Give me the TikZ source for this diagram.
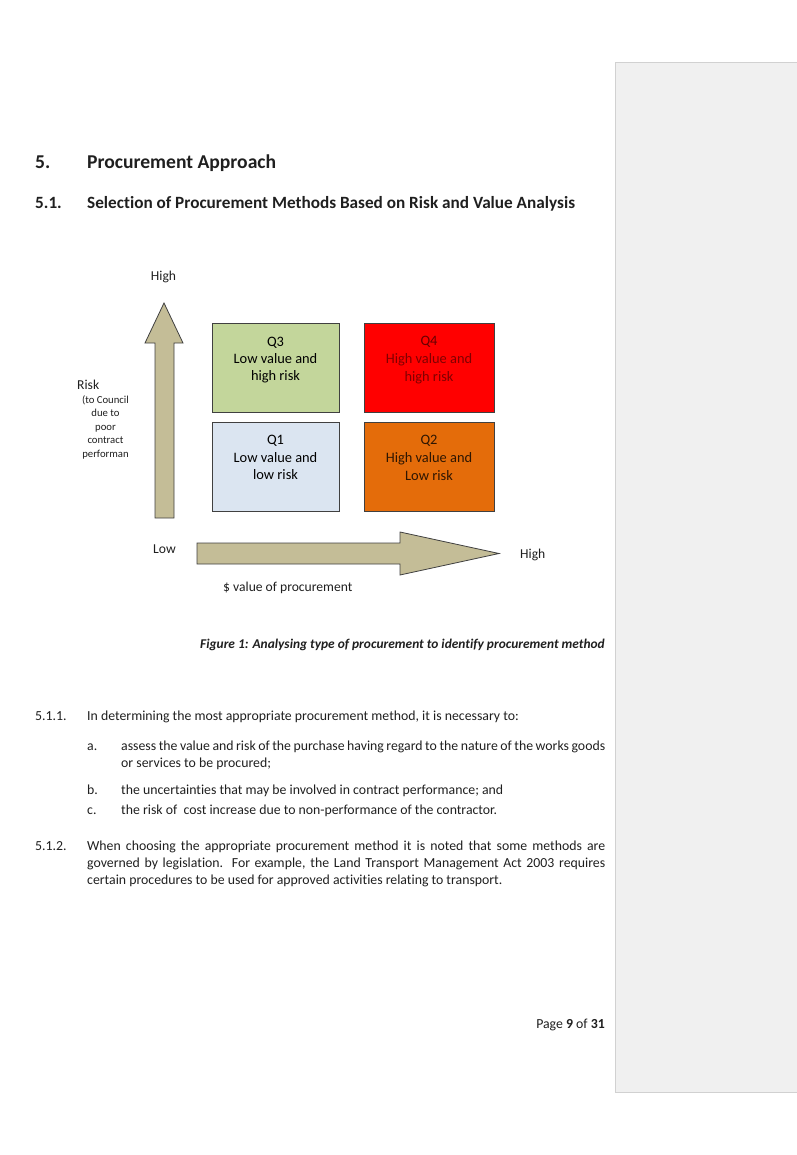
\documentclass[tikz,border=0pt]{standalone}
\usepackage{fontspec}
\setmainfont{Carlito}[Ligatures=NoCommon]
\definecolor{tan}{HTML}{C4BD97}
\definecolor{qgreen}{HTML}{C3D69B}
\definecolor{qblue}{HTML}{DBE5F1}
\definecolor{qred}{HTML}{FF0000}
\definecolor{qorange}{HTML}{E46C0A}
\definecolor{edge}{HTML}{404040}
\definecolor{ink}{HTML}{1F1F1F}
\definecolor{panel}{HTML}{F0F0F0}
\newcommand{\bodysize}{\fontsize{13.8}{16}\selectfont}
\begin{document}
\begin{tikzpicture}[x=1pt,y=-1pt,
  lbl/.style={inner sep=0pt,anchor=base west,text=ink,font=\bodysize},
  head/.style={lbl,font=\fontsize{19.6}{22}\selectfont\bfseries},
  subhead/.style={lbl,font=\fontsize{17.2}{20}\selectfont\bfseries},
  quad/.style={draw=edge,line width=0.8pt,minimum width=127pt,minimum height=89pt,inner sep=0pt},
  qtext/.style={inner sep=0pt,anchor=base,font=\fontsize{14.4}{17}\selectfont},
  riskfont/.style={inner sep=0pt,anchor=base,text=ink,font=\fontsize{10.7}{13}\selectfont},
  shaft/.style={draw=edge,line width=0.8pt,fill=tan}]
\useasboundingbox (0,0) rectangle (796,1155);
% comment pane
\filldraw[fill=panel,draw=panel!85!black!90] (615.5,62) rectangle (797,1092);
% headings
\node[head] (h5) at (35,169) {5.};
\node[head] (h5t) at (87,169) {Procurement Approach};
\node[subhead] (h51) at (35,209) {5.1.};
\node[subhead] (h51t) at (87,209) {Selection of Procurement Methods Based on Risk and Value Analysis};
% risk axis
\draw[shaft] (155,518) -- (155,343) -- (145,343) -- (164,303)
 -- (183,343) -- (174,343) -- (174,518) -- cycle;
\node[qtext,text=ink,font=\fontsize{13.6}{16}\selectfont] (rhigh) at (163.5,280) {High};
\node[lbl,font=\fontsize{13.6}{16}\selectfont] (risk) at (77,389) {Risk};
\node[riskfont] (r1) at (105.5,403) {(to Council};
\node[riskfont] (r2) at (105.5,416.5) {due to};
\node[riskfont] (r3) at (105.5,430) {poor};
\node[riskfont] (r4) at (105.5,443.5) {contract};
\node[riskfont] (r5) at (105.5,457) {performan};
% value axis
\draw[shaft] (197,543) -- (400,543) -- (400,532) -- (499,553.5)
 -- (400,575) -- (400,564) -- (197,564) -- cycle;
\node[lbl,font=\fontsize{13.6}{16}\selectfont] (vlow) at (153,553) {Low};
\node[lbl,font=\fontsize{13.6}{16}\selectfont] (vhigh) at (520,558) {High};
\node[lbl,font=\fontsize{13.6}{16}\selectfont] (vlab) at (223,591) {\$ value of procurement};
% quadrants
\node[quad,fill=qgreen] (q3) at (275.5,368) {};
\node[quad,fill=qblue] (q1) at (275.5,467) {};
\node[quad,fill=qred,minimum width=130pt] (q4) at (429,368) {};
\node[quad,fill=qorange,minimum width=130pt] (q2) at (429,467) {};
\node[qtext,text=black] (q3a) at (275.5,346) {Q3};
\node[qtext,text=black] (q3b) at (275.5,363) {Low value and};
\node[qtext,text=black] (q3c) at (275.5,380) {high risk};
\node[qtext,text=black] (q1a) at (275.5,444) {Q1};
\node[qtext,text=black] (q1b) at (275.5,462) {Low value and};
\node[qtext,text=black] (q1c) at (275.5,479) {low risk};
\node[qtext,text=red!40!black] (q4a) at (429,345) {Q4};
\node[qtext,text=red!50!black] (q4b) at (429,363) {High value and};
\node[qtext,text=red!50!black] (q4c) at (429,381) {high risk};
\node[qtext,text=qorange!20!black] (q2a) at (429,444) {Q2};
\node[qtext,text=qorange!20!black] (q2b) at (429,462) {High value and};
\node[qtext,text=qorange!20!black] (q2c) at (429,480) {Low risk};
% caption
\node[lbl,anchor=base east,font=\fontsize{13.4}{16}\selectfont\bfseries\itshape] (cap) at (605,648)
 {Figure 1: Analysing type of procurement to identify procurement method};
% clauses
\node[lbl] (n511) at (35,720) {5.1.1.};
\node[lbl] (t511) at (87,720) {In determining the most appropriate procurement method, it is necessary to:};
\node[lbl] (na) at (87,750) {a.};
\node[lbl] (ta1) at (121,750) {\makebox[484pt][s]{assess the value and risk of the purchase having regard to the nature of the works goods}};
\node[lbl] (ta2) at (121,767) {or services to be procured;};
\node[lbl] (nb) at (87,794) {b.};
\node[lbl] (tb) at (121,794) {the uncertainties that may be involved in contract performance; and};
\node[lbl] (nc) at (87,814) {c.};
\node[lbl] (tc) at (121,814) {the risk of\ \ cost increase due to non-performance of the contractor.};
\node[lbl] (n512) at (35,850) {5.1.2.};
\node[lbl] (t512a) at (87,850) {\makebox[518pt][s]{When choosing the appropriate procurement method it is noted that some methods are}};
\node[lbl] (t512b) at (87,867) {\makebox[518pt][s]{governed by legislation. For example, the Land Transport Management Act 2003 requires}};
\node[lbl] (t512c) at (87,884) {certain procedures to be used for approved activities relating to transport.};
% footer
\node[lbl,anchor=base east] (page) at (605,1028) {Page \textbf{9} of \textbf{31}};
\end{tikzpicture}
\end{document}
